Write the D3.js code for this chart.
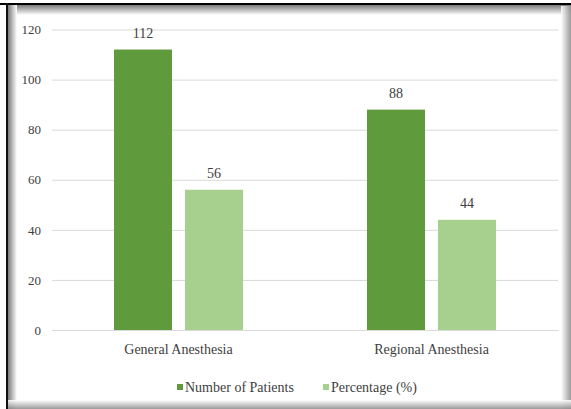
<!DOCTYPE html>
<html>
<head>
<meta charset="utf-8">
<script src="https://cdn.jsdelivr.net/npm/d3@7"></script>
<style>
  body { margin: 0; background: #fff; }
  svg { display: block; }
  text { font-family: 'Liberation Serif', 'Times New Roman', serif; }
</style>
</head>
<body>
<svg id="chart"></svg>
<script>
const categories = ["General Anesthesia", "Regional Anesthesia"];
const seriesNames = ["Number of Patients", "Percentage (%)"];
const patients = [112, 88];
const percentage = [56, 44];
const yTicks = [0, 20, 40, 60, 80, 100, 120];

const width = 571;
const height = 409;
const marginTop = 29.5;
const marginBottom = 79;
const marginLeft = 52;
const marginRight = 13;
const colors = ["#5f9a3d", "#a7cf8d"];
const font = "'Liberation Serif', 'Times New Roman', serif";

const data = categories.map((c, i) => ({ category: c, values: [patients[i], percentage[i]] }));

const svg = d3.select("#chart")
    .attr("width", width)
    .attr("height", height);

// frame: black rule along top and left, soft inner shadow
const defs = svg.append("defs");
function grad(id, x1, y1, x2, y2, from, to) {
    const g = defs.append("linearGradient").attr("id", id)
        .attr("x1", x1).attr("y1", y1).attr("x2", x2).attr("y2", y2);
    g.append("stop").attr("offset", "0%").attr("stop-color", from);
    g.append("stop").attr("offset", "100%").attr("stop-color", to);
}
grad("shTop", 0, 0, 0, 1, "#7a7a7a", "#ffffff");
grad("shLeft", 0, 0, 1, 0, "#7a7a7a", "#ffffff");
grad("shRight", 0, 0, 1, 0, "#ffffff", "#8f8f8f");
grad("shBottom", 0, 0, 0, 1, "#ffffff", "#8f8f8f");

svg.append("rect").attr("x", 0).attr("y", 0).attr("width", width).attr("height", height).attr("fill", "#fff");
svg.append("rect").attr("x", 8).attr("y", 5).attr("width", width - 8).attr("height", 10).attr("fill", "url(#shTop)");
svg.append("rect").attr("x", 8).attr("y", 5).attr("width", 9).attr("height", height - 5).attr("fill", "url(#shLeft)");
svg.append("rect").attr("x", 561).attr("y", 6).attr("width", 10).attr("height", height - 6).attr("fill", "url(#shRight)").attr("opacity", 0.9);
svg.append("rect").attr("x", 8).attr("y", 400).attr("width", width - 8).attr("height", 9).attr("fill", "url(#shBottom)").attr("opacity", 0.9);
svg.append("rect").attr("x", 0).attr("y", 3).attr("width", width).attr("height", 2).attr("fill", "#000");
svg.append("rect").attr("x", 6).attr("y", 3).attr("width", 2).attr("height", height - 3).attr("fill", "#111");

const x0 = d3.scaleBand()
    .domain(categories)
    .range([marginLeft, width - marginRight]);

const x1 = d3.scaleBand()
    .domain(seriesNames)
    .range([0, x0.bandwidth()])
    .paddingInner(0.183)
    .paddingOuter(0.873);

const y = d3.scaleLinear()
    .domain([0, 120])
    .range([height - marginBottom, marginTop]);

// gridlines + y labels
svg.append("g")
    .attr("transform", `translate(${marginLeft},0)`)
    .call(d3.axisLeft(y).tickValues(yTicks).tickSize(0).tickPadding(11))
    .call(g => g.select(".domain").remove())
    .call(g => g.selectAll(".tick line").clone()
        .attr("x2", width - marginLeft - marginRight)
        .attr("stroke", "#d9d9d9")
        .attr("stroke-width", 1))
    .call(g => g.selectAll(".tick text")
        .attr("fill", "#404040")
        .attr("font-family", font)
        .attr("font-size", 13));

const groups = svg.append("g")
    .selectAll("g")
    .data(data)
    .join("g")
    .attr("transform", d => `translate(${x0(d.category)},0)`);

groups.selectAll("rect")
    .data(d => d.values.map((v, i) => ({ key: seriesNames[i], value: v, i })))
    .join("rect")
    .attr("x", d => x1(d.key))
    .attr("y", d => y(d.value))
    .attr("width", x1.bandwidth())
    .attr("height", d => y(0) - y(d.value))
    .attr("fill", d => colors[d.i]);

groups.selectAll("text.val")
    .data(d => d.values.map((v, i) => ({ key: seriesNames[i], value: v })))
    .join("text")
    .attr("class", "val")
    .attr("x", d => x1(d.key) + x1.bandwidth() / 2)
    .attr("y", d => y(d.value) - 12)
    .attr("text-anchor", "middle")
    .attr("fill", "#404040")
    .attr("font-family", font)
    .attr("font-size", 14)
    .text(d => d.value);

// x axis
svg.append("g")
    .attr("transform", `translate(0,${y(0)})`)
    .call(d3.axisBottom(x0).tickSize(0).tickPadding(14))
    .call(g => g.select(".domain").attr("stroke", "#d9d9d9"))
    .call(g => g.selectAll(".tick text")
        .attr("fill", "#404040")
        .attr("font-family", font)
        .attr("font-size", 14));

// legend
const legendItems = [
    { name: seriesNames[0], x: 177 },
    { name: seriesNames[1], x: 323 }
];
const legend = svg.append("g")
    .selectAll("g")
    .data(legendItems)
    .join("g")
    .attr("transform", d => `translate(${d.x},387)`);
legend.append("rect")
    .attr("x", 0).attr("y", -3)
    .attr("width", 6).attr("height", 6)
    .attr("fill", (d, i) => colors[i]);
legend.append("text")
    .attr("x", 8)
    .attr("dy", "0.35em")
    .attr("fill", "#404040")
    .attr("font-family", font)
    .attr("font-size", 14)
    .text(d => d.name);
</script>
</body>
</html>
